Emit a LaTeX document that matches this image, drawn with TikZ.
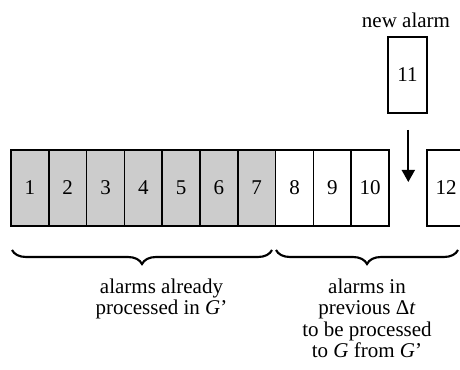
\documentclass[tikz,border=0pt]{standalone}
\usepackage{fontspec}
\setmainfont{Liberation Serif}
\usetikzlibrary{arrows.meta,decorations.pathreplacing}
\begin{document}
\begin{tikzpicture}[x=0.75pt,y=-0.75pt,
  cell/.style={draw=black,line width=1.3pt,minimum width=28.35pt,minimum height=57pt,inner sep=0pt,anchor=center},
  done/.style={cell,fill=gray!40},
  lbl/.style={inner sep=0pt,align=center,anchor=north},
  brc/.style={decorate,decoration={brace,mirror,amplitude=10.5pt},line width=1.6pt},
  font=\fontsize{15.75pt}{16.1pt}\selectfont]
\useasboundingbox (0,0) rectangle (460,370);
\clip (0,0) rectangle (460,370);
% processed alarms
\foreach \i in {1,...,7}{
  \node[done] (c\i) at ({11+37.8*(\i-0.5)},188) {\i};
}
\foreach \i in {8,9,10}{
  \node[cell] (c\i) at ({11+37.8*(\i-0.5)},188) {\i};
}
\node[cell] (c12) at (446,188) {12};
\node[cell,minimum width=28.8pt] (c11) at (407.5,75) {11};
\node[inner sep=0pt,anchor=base] (na) at (406,28) {new alarm};
% arrow
\coordinate (a1) at (408.3,130);
\coordinate (a2) at (408.3,182);
\draw[line width=1.3pt,-{Triangle[width=9.75pt,length=9pt]}] (a1) -- (a2);
% braces
\coordinate (b1) at (12,250);
\coordinate (b2) at (272,250);
\coordinate (b3) at (276,250);
\coordinate (b4) at (458,250);
\draw[brc] (b1) -- (b2);
\draw[brc] (b3) -- (b4);
% labels
\node[lbl] (t1) at (161.5,278.5) {alarms already\\processed in \textit{G}’};
\node[lbl] (t2) at (367,278.5) {alarms in\\previous Δ\textit{t}\\to be processed\\to \textit{G} from \textit{G}’};
\end{tikzpicture}
\end{document}
